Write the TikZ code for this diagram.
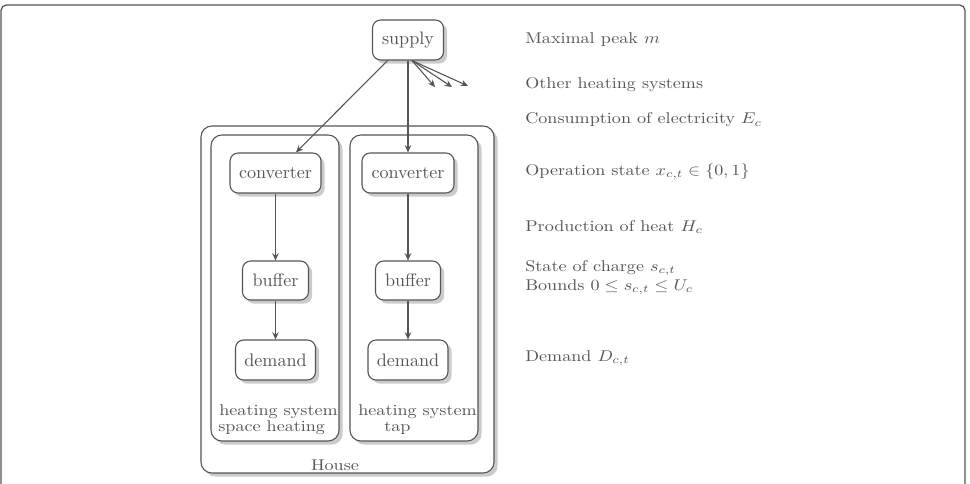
\documentclass[tikz,border=0pt]{standalone}
\usetikzlibrary{arrows.meta,shadows,calc}
\newlength\pxu \setlength\pxu{0.5525pt}
\definecolor{ink}{HTML}{555555}
\definecolor{shade}{HTML}{CBCBCB}
\begin{document}
\begin{tikzpicture}[x=0.5525pt,y=-0.5525pt,
  box/.style={draw=ink, rounded corners=4.5pt, fill=white, line width=0.6pt, text=ink, inner sep=0pt,
    drop shadow={shadow xshift=2pt, shadow yshift=-2pt, fill=shade, opacity=1}},
  frame/.style={draw=ink, rounded corners=6pt, fill=white, line width=0.6pt, inner sep=0pt,
    drop shadow={shadow xshift=2pt, shadow yshift=-2pt, fill=shade, opacity=1}},
  arr/.style={draw=ink, line width=0.6pt, -{Stealth[length=4pt,width=3.6pt]}},
  lbl/.style={text=ink, anchor=west, inner sep=0pt, yscale=0.86, transform shape}]
\useasboundingbox (0,0) rectangle (970,484);
% outer figure frame
\draw[ink, line width=0.7pt, rounded corners=3pt] (1,484) -- (1,5) -- (965,5) -- (965,484);

% containers
\node[frame, minimum width=293\pxu, minimum height=347\pxu] (house) at (347.5,299.5) {};
\node[frame, minimum width=128\pxu, minimum height=306\pxu] (hsl) at (275,288) {};
\node[frame, minimum width=128\pxu, minimum height=306\pxu] (hsr) at (414,288) {};
\node[lbl] (hsl1) at (219,412) {heating system};
\node[lbl] (hsl2) at (218,428) {space heating};
\node[lbl] (hsr1) at (358,412) {heating system};
\node[lbl] (hsr2) at (384,428) {tap};
\node[lbl, anchor=center] (houselbl) at (335,465) {House};

% nodes
\node[box, minimum width=71\pxu, minimum height=40\pxu] (supply) at (408,40) {supply};
\node[box, minimum width=91\pxu, minimum height=40\pxu] (convL) at (275.5,173) {converter};
\node[box, minimum width=92\pxu, minimum height=40\pxu] (convR) at (408,173) {converter};
\node[box, minimum width=66\pxu, minimum height=39\pxu] (bufL) at (275.5,280.5) {buffer};
\node[box, minimum width=65\pxu, minimum height=39\pxu] (bufR) at (408,280.5) {buffer};
\node[box, minimum width=80\pxu, minimum height=40\pxu] (demL) at (275.5,360) {demand};
\node[box, minimum width=80\pxu, minimum height=40\pxu] (demR) at (408,360) {demand};

% connectors
\coordinate (o1) at (435,87);
\coordinate (o2) at (452,87);
\coordinate (o3) at (468,86);
\draw[arr] (supply) -- (convL);
\draw[arr] (supply) -- (convR);
\draw[arr] ($(supply.south)+(4,0)$) -- (o1);
\draw[arr] ($(supply.south)+(4,0)$) -- (o2);
\draw[arr] ($(supply.south)+(4,0)$) -- (o3);
\draw[arr] (convL) -- (bufL);
\draw[arr] (bufL) -- (demL);
\draw[arr] (convR) -- (bufR);
\draw[arr] (bufR) -- (demR);

% annotations
\node[lbl] (t1) at (525,40) {Maximal peak $m$};
\node[lbl] (t2) at (525,85) {Other heating systems};
\node[lbl] (t3) at (525,120) {Consumption of electricity $E_c$};
\node[lbl] (t4) at (525,172) {Operation state $x_{c,t} \in \{0,1\}$};
\node[lbl] (t5) at (525,227) {Production of heat $H_c$};
\node[lbl] (t6) at (525,268) {State of charge $s_{c,t}$};
\node[lbl] (t7) at (525,287) {Bounds $0 \leq s_{c,t} \leq U_c$};
\node[lbl] (t8) at (525,358) {Demand $D_{c,t}$};
\end{tikzpicture}
\end{document}
